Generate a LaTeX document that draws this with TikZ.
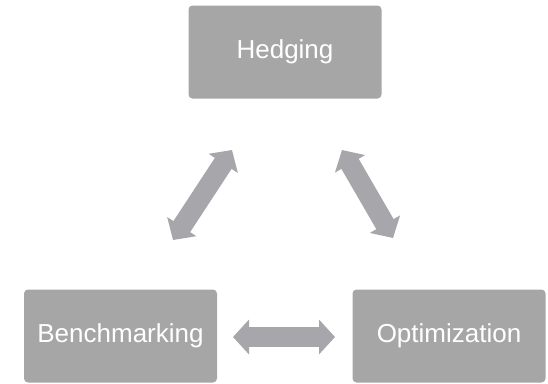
\documentclass[tikz,border=0pt]{standalone}
\usepackage{fontspec}
\setmainfont{Liberation Sans}
\usetikzlibrary{arrows.meta}
\definecolor{boxgray}{HTML}{A6A6A6}
\definecolor{arrgray}{HTML}{A6A6AB}
\begin{document}
\begin{tikzpicture}[x=1pt,y=-1pt,
  box/.style={fill=boxgray, draw=none, rounded corners=4pt, minimum width=193pt, minimum height=93pt,
    text=white, font=\fontsize{26}{30}\selectfont, inner sep=0pt},
  blockarrow/.style={draw=arrgray, line width=20pt,
    {Triangle[length=16pt,width=34pt]}-{Triangle[length=16pt,width=34pt]}}]
\useasboundingbox (0,0) rectangle (548,383);
\node[box] (H) at (285,52) {Hedging};
\node[box] (B) at (120.5,336) {Benchmarking};
\node[box] (O) at (449,336) {Optimization};
\coordinate (l1) at (173,240);
\coordinate (l2) at (232,150);
\coordinate (r1) at (342,150);
\coordinate (r2) at (393,238);
\coordinate (h1) at (233,337);
\coordinate (h2) at (335,337);
\draw[blockarrow] (l1) -- (l2);
\draw[blockarrow] (r1) -- (r2);
\draw[blockarrow] (h1) -- (h2);
\end{tikzpicture}
\end{document}
